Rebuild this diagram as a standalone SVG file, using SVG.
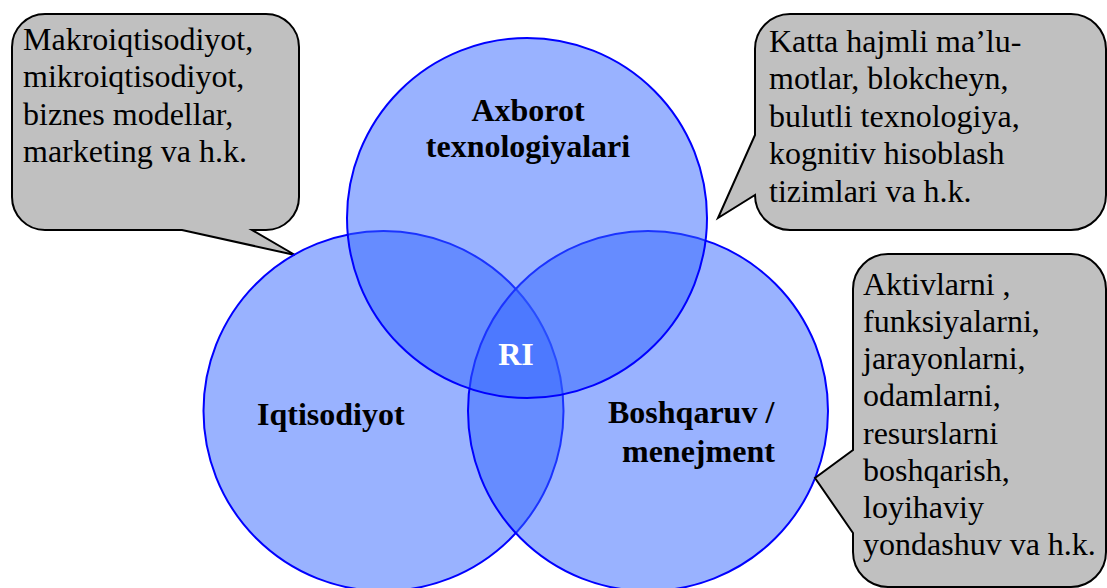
<svg xmlns="http://www.w3.org/2000/svg" width="1107" height="588" viewBox="0 0 1107 588">
<style>
.circle{fill:#3366ff;fill-opacity:0.5;stroke:#0000ff;stroke-width:2}
.callout{fill:#c0c0c0;stroke:#000;stroke-width:2;stroke-linejoin:miter}
.txt{font-family:"Liberation Serif","Times New Roman",serif;font-size:32px;fill:#000}
.lbl{font-family:"Liberation Serif","Times New Roman",serif;font-size:32px;font-weight:bold;fill:#000}
</style>
<rect width="1107" height="588" fill="#fff"/>
<g id="callout-left">
<path class="callout" d="M45,14 H266 A33,33 0 0 1 299,47 V197 A33,33 0 0 1 266,230 H252 L295,255 L182,230 H45 A33,33 0 0 1 12,197 V47 A33,33 0 0 1 45,14 Z"/>
<text class="txt" x="23" y="50">Makroiqtisodiyot,</text>
<text class="txt" x="23" y="87.3">mikroiqtisodiyot,</text>
<text class="txt" x="23" y="124.6">biznes modellar,</text>
<text class="txt" x="23" y="162">marketing va h.k.</text>
</g>
<g id="callout-top-right">
<path class="callout" d="M790,14 H1071 A35,35 0 0 1 1106,49 V195 A35,35 0 0 1 1071,230 H790 A35,35 0 0 1 755,195 L718,218 L755,135 V49 A35,35 0 0 1 790,14 Z"/>
<text class="txt" x="769" y="51.5">Katta hajmli ma’lu-</text>
<text class="txt" x="769" y="89">motlar, blokcheyn,</text>
<text class="txt" x="769" y="126.5">bulutli texnologiya,</text>
<text class="txt" x="769" y="164">kognitiv hisoblash</text>
<text class="txt" x="769" y="201.5">tizimlari va h.k.</text>
</g>
<g id="circle-iqtisodiyot">
<circle class="circle" cx="383.5" cy="411" r="180"/>
</g>
<g id="circle-boshqaruv">
<circle class="circle" cx="648" cy="411" r="180"/>
</g>
<g id="circle-axborot">
<circle class="circle" cx="527" cy="218" r="180"/>
</g>
<g id="callout-bottom-right">
<path class="callout" d="M888,254 H1071 A35,35 0 0 1 1106,289 V552 A35,35 0 0 1 1071,587 H888 A35,35 0 0 1 853,552 V533 L815,478 L853,450 V289 A35,35 0 0 1 888,254 Z"/>
<text class="txt" x="863" y="295">Aktivlarni ,</text>
<text class="txt" x="863" y="332.1">funksiyalarni,</text>
<text class="txt" x="863" y="369.3">jarayonlarni,</text>
<text class="txt" x="863" y="406.4">odamlarni,</text>
<text class="txt" x="863" y="443.6">resurslarni</text>
<text class="txt" x="863" y="480.7">boshqarish,</text>
<text class="txt" x="863" y="517.9">loyihaviy</text>
<text class="txt" x="863" y="555">yondashuv va h.k.</text>
</g>
<g id="labels">
<text class="lbl" x="528" y="121" text-anchor="middle">Axborot</text>
<text class="lbl" x="528" y="157" text-anchor="middle">texnologiyalari</text>
<text class="lbl" x="257" y="425">Iqtisodiyot</text>
<text class="lbl" x="608" y="423">Boshqaruv /</text>
<text class="lbl" x="622" y="462">menejment</text>
<text class="lbl" x="516" y="365" text-anchor="middle" fill="#fff" style="fill:#fff">RI</text>
</g>
<g id="connectors"></g>
</svg>
